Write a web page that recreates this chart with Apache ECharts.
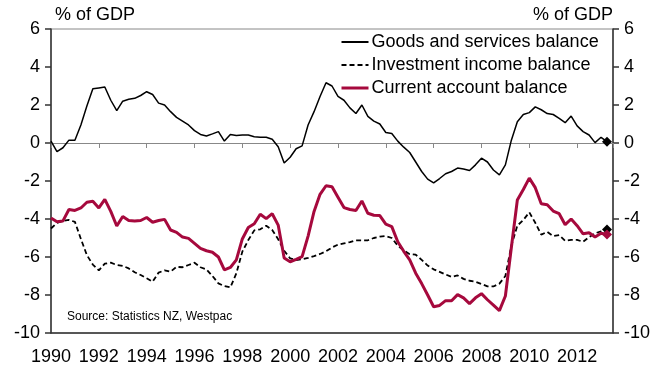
<!DOCTYPE html>
<html>
<head>
<meta charset="utf-8">
<script src="https://cdn.jsdelivr.net/npm/echarts@6/dist/echarts.min.js"></script>
<style>
html,body{margin:0;padding:0;background:#fff;}
#chart{width:670px;height:367px;}
</style>
</head>
<body>
<div id="chart"></div>
<script>
// Quarterly data, 1990 Q1 .. 2013 Q2
var startYear = 1990;
var goodsServices = [
  0.1,-0.45,-0.25,0.15, 0.15,0.95,1.95,2.85, 2.9,2.95,2.25,1.7, 2.2,2.3,2.35,2.5,
  2.7,2.55,2.1,2.0, 1.65,1.35,1.15,0.95, 0.65,0.45,0.37,0.48, 0.6,0.1,0.45,0.4,
  0.42,0.42,0.33,0.3, 0.3,0.2,-0.2,-1.05, -0.75,-0.3,-0.15,0.95, 1.65,2.45,3.17,3.0,
  2.45,2.25,1.85,1.55, 2.0,1.4,1.15,1.0, 0.55,0.5,0.1,-0.22, -0.5,-1.0,-1.5,-1.9,
  -2.1,-1.87,-1.62,-1.5, -1.32,-1.37,-1.45,-1.15, -0.8,-1.0,-1.42,-1.68, -1.15,0.15,1.12,1.5,
  1.6,1.9,1.75,1.55, 1.5,1.3,1.07,1.42, 0.9,0.6,0.42,0.02, 0.3,0.07
];
var investmentIncome = [
  -4.5,-4.2,-4.1,-4.05, -4.15,-5.05,-5.9,-6.4, -6.7,-6.35,-6.3,-6.42, -6.47,-6.6,-6.8,-6.95,
  -7.12,-7.3,-6.82,-6.7, -6.77,-6.52,-6.54,-6.42, -6.3,-6.54,-6.65,-7.0, -7.39,-7.53,-7.6,-6.86,
  -5.72,-5.11,-4.6,-4.54, -4.35,-4.58,-5.07,-5.67, -6.07,-6.16,-6.12,-6.05, -5.95,-5.84,-5.7,-5.5,
  -5.35,-5.28,-5.22,-5.12, -5.12,-5.12,-5.0,-4.93, -4.9,-5.0,-5.4,-5.65, -5.85,-5.88,-6.15,-6.45,
  -6.65,-6.78,-6.92,-7.05, -6.97,-7.15,-7.25,-7.3, -7.42,-7.55,-7.55,-7.4, -7.0,-5.4,-4.35,-4.05,
  -3.65,-4.2,-4.82,-4.68, -4.9,-4.85,-5.15,-5.1, -5.1,-5.2,-4.95,-4.75, -4.65,-4.55
];
var currentAccount = [
  -3.95,-4.15,-4.1,-3.5, -3.55,-3.42,-3.12,-3.07, -3.42,-2.97,-3.6,-4.37, -3.87,-4.08,-4.1,-4.08,
  -3.92,-4.17,-4.08,-4.02, -4.58,-4.7,-4.95,-5.02, -5.28,-5.55,-5.67,-5.75, -6.0,-6.68,-6.55,-6.15,
  -5.05,-4.45,-4.25,-3.75, -3.98,-3.72,-4.32,-6.05, -6.25,-6.12,-5.98,-4.9, -3.6,-2.7,-2.25,-2.3,
  -2.85,-3.4,-3.5,-3.55, -3.05,-3.7,-3.8,-3.82, -4.27,-4.4,-5.2,-5.7, -6.15,-6.85,-7.4,-8.0,
  -8.62,-8.55,-8.3,-8.3, -7.98,-8.15,-8.45,-8.15, -7.93,-8.25,-8.53,-8.82, -8.05,-5.5,-3.0,-2.45,
  -1.85,-2.35,-3.2,-3.25, -3.58,-3.72,-4.3,-4.0, -4.35,-4.78,-4.72,-4.95, -4.75,-4.82
];
var seriesNames = ['Goods and services balance','Investment income balance','Current account balance'];
var yTicks = [-10,-8,-6,-4,-2,0,2,4,6];
var xTickYears = [1990,1992,1994,1996,1998,2000,2002,2004,2006,2008,2010,2012];
var axisTitle = '% of GDP';
var sourceText = 'Source: Statistics NZ, Westpac';

var quarterX = goodsServices.map(function(_, i){ return startYear + i / 4; });
function pairs(vals){ return vals.map(function(v, i){ return [quarterX[i], v]; }); }
function lastPoint(vals){ var n = vals.length - 1; return [[quarterX[n], vals[n]]]; }

var RED = '#A6093D';
var FONT = 'Liberation Sans, Arial, sans-serif';
var chart = echarts.init(document.getElementById('chart'), null, {renderer:'canvas'});

var yAxisCommon = {
  type:'value', min: yTicks[0], max: yTicks[yTicks.length-1], interval: 2,
  splitLine:{show:false},
  axisLine:{show:true, lineStyle:{color:'#333', width:1.5}},
  axisTick:{show:true, length:6, lineStyle:{color:'#333', width:1.5}},
  axisLabel:{color:'#000', fontSize:18, fontFamily:FONT, margin:11}
};

chart.setOption({
  animation:false,
  backgroundColor:'#fff',
  grid:{left:51, right:57, top:29, bottom:34, show:true, borderColor:'#888', borderWidth:1, backgroundColor:'transparent'},
  xAxis:[
    {
      type:'value', min:1990, max:2013.5, interval:2,
      axisLine:{show:true, onZero:false, lineStyle:{color:'#333', width:1.5}},
      axisTick:{show:false},
      splitLine:{show:false},
      axisLabel:{color:'#000', fontSize:18, fontFamily:FONT, margin:15, showMaxLabel:false,
        formatter:function(v){ return xTickYears.indexOf(v) >= 0 ? String(v) : ''; }}
    },
    {
      type:'value', min:1990, max:2013.5, interval:2, position:'bottom',
      axisLine:{show:true, onZero:true, onZeroAxisIndex:0, lineStyle:{color:'#888', width:1}},
      axisTick:{show:true, inside:false, length:5, lineStyle:{color:'#888', width:1}},
      axisLabel:{show:false},
      splitLine:{show:false}
    }
  ],
  yAxis:[
    Object.assign({}, yAxisCommon, {position:'left'}),
    Object.assign({}, yAxisCommon, {position:'right'})
  ],
  legend:{
    orient:'vertical', left:335, top:27, itemWidth:27, itemHeight:12, itemGap:3,
    data:[
      {name:seriesNames[0]},
      {name:seriesNames[1]},
      {name:seriesNames[2], lineStyle:{width:3}}
    ],
    itemStyle:{opacity:0},
    textStyle:{color:'#000', fontSize:18, fontFamily:FONT, lineHeight:20, padding:[0,0,0,-2]},
    inactiveColor:'#000'
  },
  graphic:[
    {type:'text', left:55, top:6, style:{text:axisTitle, fill:'#000', font:'18px ' + FONT}},
    {type:'text', right:57, top:6, style:{text:axisTitle, fill:'#000', font:'18px ' + FONT}},
    {type:'text', left:67, top:311, style:{text:sourceText, fill:'#000', font:'12px ' + FONT}}
  ],
  series:[
    {
      name:seriesNames[0], type:'line', data:pairs(goodsServices), symbol:'none',
      lineStyle:{color:'#000', width:1.5}, itemStyle:{color:'#000'}, z:3
    },
    {
      name:seriesNames[1], type:'line', data:pairs(investmentIncome), symbol:'none',
      lineStyle:{color:'#000', width:1.8, type:[5,3]}, itemStyle:{color:'#000'}, z:3
    },
    {
      name:seriesNames[2], type:'line', data:pairs(currentAccount), symbol:'none',
      lineStyle:{color:RED, width:3}, itemStyle:{color:RED}, z:4
    },
    {type:'scatter', data:lastPoint(goodsServices), symbol:'diamond', symbolSize:10, itemStyle:{color:'#000', opacity:1}, z:5},
    {type:'scatter', data:lastPoint(investmentIncome), symbol:'diamond', symbolSize:10, itemStyle:{color:'#000', opacity:1}, z:5},
    {type:'scatter', data:lastPoint(currentAccount), symbol:'diamond', symbolSize:10, itemStyle:{color:RED, opacity:1}, z:6}
  ]
});
</script>
</body>
</html>
